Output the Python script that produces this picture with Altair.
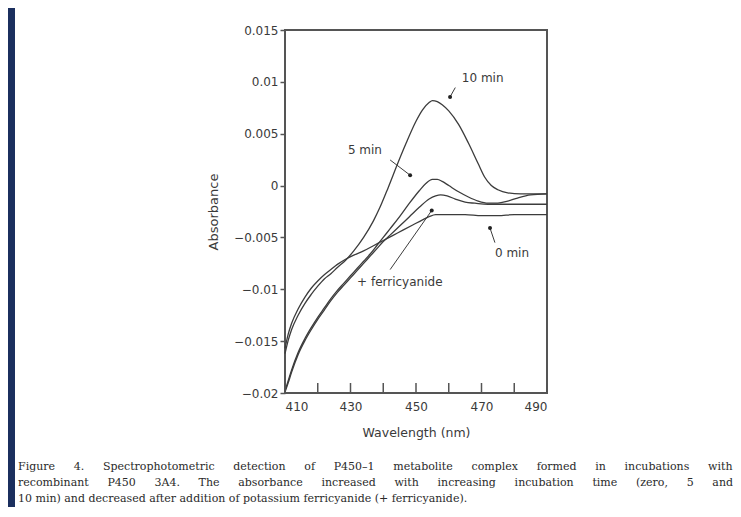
import altair as alt
import pandas as pd

# ---- data ----
wl_10 = [410, 411, 412, 414, 416, 418, 420, 422, 424, 426, 428.5, 431, 434, 437, 439,
         441.5, 444.5, 447, 450, 452, 454, 455, 456.5, 458, 460, 463, 466, 469, 471,
         473, 475, 478, 482, 486, 490]
ab_10 = [-0.0162, -0.0149, -0.0139, -0.0125, -0.0114, -0.0105, -0.0097, -0.0090, -0.0085,
         -0.0079, -0.0072, -0.0063, -0.0050, -0.0034, -0.0021, -0.0002, 0.0022, 0.0041,
         0.0062, 0.0073, 0.0080, 0.0082, 0.0081, 0.0078, 0.0072, 0.0059, 0.0041, 0.0021,
         0.0008, 0.0000, -0.0004, -0.0007, -0.0008, -0.0008, -0.0008]

wl_5 = [410, 411, 412, 414, 416, 418, 420, 422, 424, 426, 428, 430, 432, 434, 436, 438,
        440, 442, 445, 448, 451, 453, 455, 456.5, 458, 460, 463, 466, 469, 472, 475, 478,
        481, 485, 490]
ab_5 = [-0.0198, -0.0188, -0.0178, -0.0161, -0.0148, -0.0137, -0.0127, -0.0118, -0.0109,
        -0.0101, -0.0094, -0.0087, -0.0080, -0.0073, -0.0066, -0.0058, -0.0050, -0.0042,
        -0.0030, -0.0017, -0.0005, 0.0002, 0.0006, 0.0006, 0.0004, 0.0000, -0.0006,
        -0.0011, -0.0015, -0.0017, -0.0017, -0.0015, -0.0012, -0.0009, -0.0008]

wl_f = [410, 411, 412, 414, 416, 418, 420, 422, 424, 426, 428, 430, 432, 434, 436, 438,
        440, 442, 445, 448, 451, 454, 456, 457.5, 459.5, 462, 465, 468, 472, 480, 485, 490]
ab_f = [-0.0199, -0.0190, -0.0180, -0.0163, -0.0150, -0.0139, -0.0129, -0.0120, -0.0111,
        -0.0103, -0.0096, -0.0089, -0.0082, -0.0075, -0.0068, -0.0061, -0.0054, -0.0048,
        -0.0039, -0.0030, -0.0021, -0.0013, -0.0010, -0.0009, -0.0010, -0.0013, -0.0016,
        -0.0017, -0.0018, -0.0018, -0.0018, -0.0018]

wl_0 = [410, 411, 412, 414, 416, 418, 420, 422, 424, 426, 428.5, 431, 434, 437, 440, 443,
        446, 449, 452, 454, 456, 460, 465, 470, 475, 480, 485, 490]
ab_0 = [-0.0157, -0.0143, -0.0133, -0.0119, -0.0108, -0.0099, -0.0092, -0.0086, -0.0081,
        -0.0076, -0.0071, -0.0067, -0.0063, -0.0058, -0.0053, -0.0048, -0.0043, -0.0038,
        -0.0033, -0.0030, -0.0028, -0.0028, -0.0028, -0.0029, -0.0029, -0.0028, -0.0028,
        -0.0028]

series_names = ["10 min", "5 min", "+ ferricyanide", "0 min"]

# annotations: label text, label position, pointer start, pointer end (dot)
ann_text = ["10 min", "5 min", "+ ferricyanide", "0 min"]
ann_tx = [464.0, 434.4, 432.0, 479.3]
ann_ty = [0.01037, 0.00343, -0.0093, -0.0065]
ann_align = ["left", "center", "left", "center"]
ptr_x1 = [462.0, 442.1, 442.1, 474.1]
ptr_y1 = [0.00945, 0.00247, -0.0081, -0.0055]
ptr_x2 = [460.4, 448.2, 454.8, 472.6]
ptr_y2 = [0.00855, 0.0010, -0.0024, -0.0041]

x_label_values = [410, 430, 450, 470, 490]
x_tick_values = [410, 420, 430, 440, 450, 460, 470, 480, 490]
y_tick_values = [0.015, 0.01, 0.005, 0, -0.005, -0.01, -0.015, -0.02]

caption_lines = [
    "Figure 4. Spectrophotometric detection of P450\u20131 metabolite complex formed in incubations with",
    "recombinant P450 3A4. The absorbance increased with increasing incubation time (zero, 5 and",
    "10 min) and decreased after addition of potassium ferricyanide (+ ferricyanide).",
]
# the first two lines are justified in the original: widen their word gaps
JUSTIFY_GAP = "\u2003\u2002\u2009"
caption_text = "\n".join(
    [caption_lines[0].replace(" ", JUSTIFY_GAP),
     caption_lines[1].replace(" ", JUSTIFY_GAP),
     caption_lines[2]])

# ---- build tables ----
rows = []
for name, wl, ab in zip(series_names, [wl_10, wl_5, wl_f, wl_0], [ab_10, ab_5, ab_f, ab_0]):
    for w, a in zip(wl, ab):
        rows.append({"series": name, "wl": w, "ab": a})
curves = pd.DataFrame(rows)

ann = pd.DataFrame({
    "text": ann_text, "tx": ann_tx, "ty": ann_ty, "align": ann_align,
    "x1": ptr_x1, "y1": ptr_y1, "x2": ptr_x2, "y2": ptr_y2,
})
ticks_df = pd.DataFrame({"t": x_tick_values})
caption_df = pd.DataFrame({"text": [caption_text]})
one_row = pd.DataFrame({"k": [0]})

W, H = 262, 363
INK = "#3a3a3a"
FONT = "DejaVu Sans"

xscale = alt.Scale(domain=[410, 490], nice=False, zero=False)
yscale = alt.Scale(domain=[-0.02, 0.015], nice=False, zero=False)

xaxis = alt.Axis(values=x_label_values, format="d", title="Wavelength (nm)",
                 ticks=False, tickSize=0, domain=False, grid=False,
                 labelFont=FONT, labelFontSize=12, labelColor=INK, labelPadding=8,
                 titleFont=FONT, titleFontSize=12.5, titleColor=INK,
                 titleFontWeight="normal", titlePadding=14)
yaxis = alt.Axis(values=y_tick_values, format=".3~f", title="Absorbance",
                 tickSize=5, tickWidth=1.5, tickColor="#555555", domain=False, grid=False,
                 labelFont=FONT, labelFontSize=12, labelColor=INK, labelPadding=2,
                 titleFont=FONT, titleFontSize=13, titleColor=INK,
                 titleFontWeight="normal", titlePadding=13)

strip = alt.Chart(one_row).mark_rect(color="#1b2f5e").encode(
    x=alt.value(-277), x2=alt.value(-270), y=alt.value(-22), y2=alt.value(H + 114))

lines = alt.Chart(curves).mark_line(color="#3c3c3c", strokeWidth=1.3,
                                    interpolate="monotone").encode(
    x=alt.X("wl:Q", scale=xscale, axis=xaxis),
    y=alt.Y("ab:Q", scale=yscale, axis=yaxis),
    detail="series:N",
    order="wl:Q",
)

xticks = alt.Chart(ticks_df).mark_rule(color="#555555", strokeWidth=1.5).encode(
    x=alt.X("t:Q", scale=xscale), y=alt.value(H), y2=alt.value(H - 10))

pointers = alt.Chart(ann).mark_rule(color="#3c3c3c", strokeWidth=1).encode(
    x=alt.X("x1:Q", scale=xscale), y=alt.Y("y1:Q", scale=yscale),
    x2="x2:Q", y2="y2:Q")

dots = alt.Chart(ann).mark_point(filled=True, color="#222222", size=16, opacity=1).encode(
    x=alt.X("x2:Q", scale=xscale), y=alt.Y("y2:Q", scale=yscale))

labels_left = alt.Chart(ann).transform_filter(alt.datum.align == "left").mark_text(
    align="left", baseline="middle", font=FONT, fontSize=12, color=INK).encode(
    x=alt.X("tx:Q", scale=xscale), y=alt.Y("ty:Q", scale=yscale), text="text:N")
labels_center = alt.Chart(ann).transform_filter(alt.datum.align == "center").mark_text(
    align="center", baseline="middle", font=FONT, fontSize=12, color=INK).encode(
    x=alt.X("tx:Q", scale=xscale), y=alt.Y("ty:Q", scale=yscale), text="text:N")

caption = alt.Chart(caption_df).mark_text(
    align="left", baseline="alphabetic", font="DejaVu Serif", fontSize=11,
    color="#2a2a2a", lineBreak="\n", lineHeight=16).encode(
    x=alt.value(-267), y=alt.value(440), text="text:N")

chart = alt.layer(strip, lines, xticks, pointers, dots, labels_left, labels_center,
                  caption).properties(
    width=W, height=H,
    autosize=alt.AutoSizeParams(type="none"),
    padding={"left": 277, "top": 22, "right": 186, "bottom": 114},
    background="white",
).configure_view(stroke="#555555", strokeWidth=2)

chart.save("out.html", embed_options={"renderer": "svg", "actions": False})
